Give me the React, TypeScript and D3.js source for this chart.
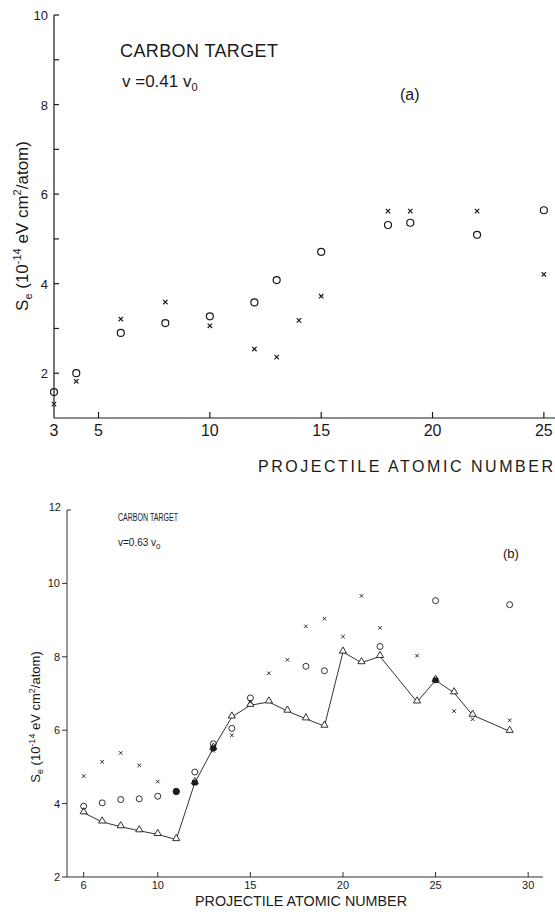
import React from "react";
import * as d3 from "d3";

// panel (a): v = 0.41 v0
const circleZA = [3, 4, 6, 8, 10, 12, 13, 15, 18, 19, 22, 25];
const circleSA = [1.58, 2.0, 2.9, 3.12, 3.27, 3.58, 4.08, 4.71, 5.31, 5.36, 5.09, 5.64];
const crossZA = [3, 4, 6, 8, 10, 12, 13, 14, 15, 18, 19, 22, 25];
const crossSA = [1.31, 1.82, 3.21, 3.59, 3.06, 2.54, 2.36, 3.18, 3.72, 5.62, 5.62, 5.62, 4.21];
const xTicksA = [3, 5, 10, 15, 20, 25];
const yTicksA = [2, 4, 6, 8, 10];

// panel (b): v = 0.63 v0
const triZB = [6, 7, 8, 9, 10, 11, 12, 13, 14, 15, 16, 17, 18, 19, 20, 21, 22, 24, 25, 26, 27, 29];
const triSB = [3.75, 3.5, 3.37, 3.26, 3.16, 3.02, 4.57, 5.51, 6.36, 6.68, 6.77, 6.52, 6.31, 6.11, 8.13, 7.84, 8.01, 6.77, 7.36, 7.02, 6.41, 5.97];
const filledZB = [12, 13, 25];
const circleZB = [6, 7, 8, 9, 10, 12, 13, 14, 15, 18, 19, 22, 25, 29];
const circleSB = [3.93, 4.02, 4.11, 4.13, 4.2, 4.86, 5.63, 6.05, 6.88, 7.74, 7.62, 8.28, 9.53, 9.42];
const dotZB = [11];
const dotSB = [4.33];
const crossZB = [6, 7, 8, 9, 10, 13, 14, 15, 16, 17, 18, 19, 20, 21, 22, 24, 26, 27, 29];
const crossSB = [4.75, 5.14, 5.38, 5.04, 4.6, 5.44, 5.86, 6.77, 7.55, 7.92, 8.83, 9.04, 8.55, 9.66, 8.79, 8.03, 6.52, 6.3, 6.27];
const xTicksB = [6, 10, 15, 20, 25, 30];
const yTicksB = [2, 4, 6, 8, 10, 12];

const FONT = "'Liberation Sans', Arial, sans-serif";
const INK = "#1a1a1a";

const cross = (s: number) => `M${-s},${-s}L${s},${s}M${s},${-s}L${-s},${s}`;

export default function App() {
  // scales for (a)
  const xA = d3.scaleLinear().domain([3, 25.5]).range([54, 555]);
  const yA = d3.scaleLinear().domain([1, 10]).range([418, 15]);
  // scales for (b)
  const xB = d3.scaleLinear().domain([5.1, 30.8]).range([67, 543]);
  const yB = d3.scaleLinear().domain([2, 12]).range([877, 510]);

  const line = d3
    .line<number>()
    .x((_, i) => xB(triZB[i]))
    .y((d) => yB(d));

  const tri = d3.symbol(d3.symbolTriangle, 22)();
  const sq = d3.symbol(d3.symbolSquare, 22)();

  return (
    <div style={{ position: "absolute", left: 0, top: 0 }}>
      <svg width={555} height={912} style={{ display: "block", background: "#fff" }} fontFamily={FONT}>
        {/* ---------- panel (a) ---------- */}
        <g stroke={INK} strokeWidth={1.2}>
          <line x1={xA(3)} x2={xA(3)} y1={yA(10)} y2={yA(1)} />
          <line x1={xA(3)} x2={xA(25.5)} y1={yA(1)} y2={yA(1)} />
          {d3.range(2, 11).map((v) => (
            <line key={v} x1={xA(3)} x2={xA(3) + 5} y1={yA(v)} y2={yA(v)} />
          ))}
          {xTicksA.slice(1).map((v) => (
            <line key={v} x1={xA(v)} x2={xA(v)} y1={yA(1)} y2={yA(1) - 6} />
          ))}
        </g>
        <g fill={INK} fontSize={13} textAnchor="end">
          {yTicksA.map((v) => (
            <text key={v} x={48} y={yA(v) + 5}>{v}</text>
          ))}
        </g>
        <g fill={INK} fontSize={16} textAnchor="middle">
          {xTicksA.map((v) => (
            <text key={v} x={xA(v)} y={436}>{v}</text>
          ))}
        </g>
        <text x={258} y={472} fontSize={16} fill={INK} textLength={295} lengthAdjust="spacing">
          PROJECTILE ATOMIC NUMBER
        </text>
        <text transform="translate(28,226) rotate(-90)" textAnchor="middle" fontSize={17} fill={INK}>
          S<tspan fontSize={11} dy={4}>e</tspan>
          <tspan dy={-4}> (10</tspan>
          <tspan fontSize={11} dy={-7}>-14</tspan>
          <tspan dy={7}> eV cm</tspan>
          <tspan fontSize={11} dy={-7}>2</tspan>
          <tspan dy={7}>/atom)</tspan>
        </text>
        <text x={120} y={57} fontSize={18} fill={INK} textLength={158} lengthAdjust="spacing">
          CARBON TARGET
        </text>
        <text x={122} y={87} fontSize={17} fill={INK}>
          v =0.41 v<tspan fontSize={11} dy={4}>0</tspan>
        </text>
        <text x={400} y={100} fontSize={16} fill={INK}>(a)</text>

        <g fill="none" stroke={INK} strokeWidth={1.2}>
          {circleZA.map((z, i) => (
            <circle key={z} cx={xA(z)} cy={yA(circleSA[i])} r={3.5} />
          ))}
          {crossZA.map((z, i) => (
            <path key={z} d={cross(2.2)} transform={`translate(${xA(z)},${yA(crossSA[i])})`} />
          ))}
        </g>

        {/* ---------- panel (b) ---------- */}
        <g stroke={INK} strokeWidth={0.9}>
          <line x1={xB(5.1)} x2={xB(5.1)} y1={yB(12)} y2={yB(2)} />
          <line x1={xB(5.1)} x2={xB(30.8)} y1={yB(2)} y2={yB(2)} />
          {yTicksB.map((v) =>
            v === 12 ? (
              <line key={v} x1={xB(5.1)} x2={xB(5.1) + 4} y1={yB(v)} y2={yB(v)} />
            ) : (
              <line key={v} x1={xB(5.1) - 5} x2={xB(5.1)} y1={yB(v)} y2={yB(v)} />
            )
          )}
          {xTicksB.map((v) => (
            <line key={v} x1={xB(v)} x2={xB(v)} y1={yB(2)} y2={yB(2) - 5} />
          ))}
        </g>
        <g fill={INK} fontSize={11} textAnchor="end">
          {yTicksB.map((v) => (
            <text key={v} x={v === 12 ? 61 : 60} y={yB(v) + (v === 12 ? 1 : 4)}>{v}</text>
          ))}
        </g>
        <g fill={INK} fontSize={11} textAnchor="middle">
          {xTicksB.map((v) => (
            <text key={v} x={xB(v)} y={889}>{v}</text>
          ))}
        </g>
        <text x={195} y={906} fontSize={14} fill={INK} textLength={212} lengthAdjust="spacingAndGlyphs">
          PROJECTILE   ATOMIC NUMBER
        </text>
        <text transform="translate(40,717) rotate(-90)" textAnchor="middle" fontSize={13} fill={INK}>
          S<tspan fontSize={9} dy={3}>e</tspan>
          <tspan dy={-3}> (10</tspan>
          <tspan fontSize={9} dy={-5}>-14</tspan>
          <tspan dy={5}> eV  cm</tspan>
          <tspan fontSize={9} dy={-5}>2</tspan>
          <tspan dy={5}>/atom)</tspan>
        </text>
        <text x={118} y={521} fontSize={10} fill={INK} textLength={60} lengthAdjust="spacingAndGlyphs">
          CARBON TARGET
        </text>
        <text x={118} y={546} fontSize={10} fill={INK}>
          v=0.63 v<tspan fontSize={8} dy={3}>0</tspan>
        </text>
        <text x={503} y={558} fontSize={13} fill={INK}>(b)</text>

        <path d={line(triSB) ?? ""} fill="none" stroke={INK} strokeWidth={0.9} />
        <g fill="#fff" stroke={INK} strokeWidth={0.9}>
          {triZB.map((z, i) => (
            <path key={z} d={tri ?? ""} transform={`translate(${xB(z)},${yB(triSB[i]) - 1})`} />
          ))}
        </g>
        <g fill={INK} stroke={INK} strokeWidth={0.9}>
          {filledZB.map((z) => (
            <path key={z} d={sq ?? ""} transform={`translate(${xB(z)},${yB(triSB[triZB.indexOf(z)])})`} />
          ))}
          {dotZB.map((z, i) => (
            <circle key={z} cx={xB(z)} cy={yB(dotSB[i])} r={3.2} />
          ))}
        </g>
        <g fill="none" stroke={INK} strokeWidth={0.9}>
          {circleZB.map((z, i) => (
            <circle key={z} cx={xB(z)} cy={yB(circleSB[i])} r={3} />
          ))}
          {crossZB.map((z, i) => (
            <path key={z} d={cross(1.8)} transform={`translate(${xB(z)},${yB(crossSB[i])})`} />
          ))}
        </g>
      </svg>
    </div>
  );
}
